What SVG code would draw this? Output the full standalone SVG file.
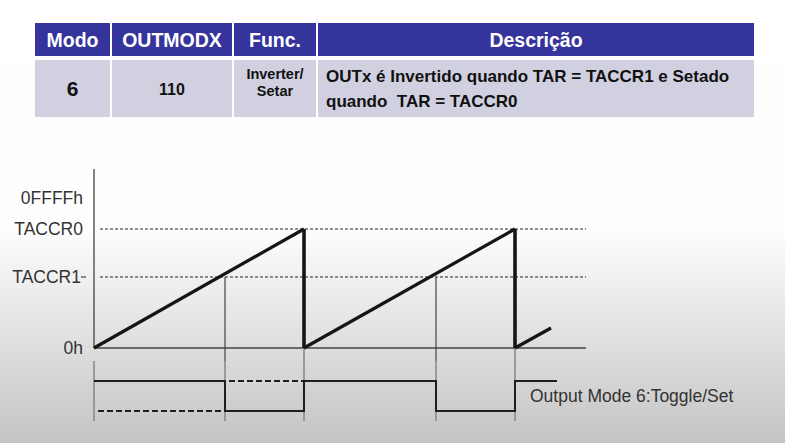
<svg xmlns="http://www.w3.org/2000/svg" width="785" height="443" viewBox="0 0 785 443">
<defs>
<linearGradient id="bg" x1="0" y1="0" x2="0" y2="443" gradientUnits="userSpaceOnUse">
<stop offset="0" stop-color="#ffffff"/>
<stop offset="0.52" stop-color="#fdfdfd"/>
<stop offset="1" stop-color="#c4c4c4"/>
</linearGradient>
<style>
.hdr{fill:#34349c}
.row{fill:#d0d0e0}
.ht{font-family:"Liberation Sans",Arial,sans-serif;font-weight:bold;fill:#ffffff;font-size:19.5px;text-anchor:middle}
.bt{font-family:"Liberation Sans",Arial,sans-serif;font-weight:bold;fill:#111111;text-anchor:middle}
.dt{font-family:"Liberation Sans",Arial,sans-serif;font-weight:bold;fill:#111111;font-size:17px;white-space:pre}
.lbl{font-family:"Liberation Sans",Arial,sans-serif;fill:#333333;font-size:17.5px}
.axis{stroke:#333333;stroke-width:1.2;fill:none}
.base{stroke:#6a6a6a;stroke-width:1.8;fill:none}
.dot{stroke:#222222;stroke-width:1;stroke-dasharray:3 2;fill:none}
.ramp{stroke:#151515;stroke-width:3.2;fill:none;stroke-linejoin:miter}
.drop{stroke:#151515;stroke-width:3.6;fill:none}
.thin{stroke:#444444;stroke-width:1.2;fill:none}
.tick{stroke:#8a8a8a;stroke-width:1.6;fill:none}
.wave{stroke:#1e1e1e;stroke-width:2;fill:none}
.dash{stroke:#1e1e1e;stroke-width:2;stroke-dasharray:6 3;fill:none}
</style>
</defs>
<rect x="0" y="0" width="785" height="443" fill="url(#bg)"/>

<g id="table">
<rect class="hdr" x="35" y="23" width="75" height="33"/>
<rect class="hdr" x="112" y="23" width="120" height="33"/>
<rect class="hdr" x="234" y="23" width="82" height="33"/>
<rect class="hdr" x="318" y="23" width="436" height="33"/>
<rect class="row" x="35" y="60" width="75" height="57"/>
<rect class="row" x="112" y="60" width="120" height="57"/>
<rect class="row" x="234" y="60" width="82" height="57"/>
<rect class="row" x="318" y="60" width="436" height="57"/>
<text class="ht" x="72.5" y="47">Modo</text>
<text class="ht" x="172" y="47">OUTMODX</text>
<text class="ht" x="275" y="47">Func.</text>
<text class="ht" x="536" y="47">Descrição</text>
<text class="bt" x="72.5" y="96" font-size="21px">6</text>
<text class="bt" x="172" y="95" font-size="16px">110</text>
<text class="bt" x="275" y="79" font-size="14.5px">Inverter/</text>
<text class="bt" x="275" y="96" font-size="14.5px">Setar</text>
<text class="dt" x="326" y="82">OUTx é Invertido quando TAR = TACCR1 e Setado</text>
<text class="dt" x="326" y="107">quando  TAR = TACCR0</text>
</g>

<g id="labels">
<text class="lbl" x="83" y="204" text-anchor="end">0FFFFh</text>
<text class="lbl" x="83" y="235" text-anchor="end">TACCR0</text>
<text class="lbl" x="81" y="283" text-anchor="end">TACCR1</text>
<text class="lbl" x="83" y="354" text-anchor="end">0h</text>
<text class="lbl" x="530" y="402">Output Mode 6:Toggle/Set</text>
</g>

<g id="connectors">
<line class="axis" x1="94" y1="169" x2="94" y2="348"/>
<line class="thin" x1="81" y1="277" x2="86" y2="277"/>
<line class="dot" x1="100" y1="229" x2="586" y2="229"/>
<line class="dot" x1="100" y1="277" x2="586" y2="277"/>
<line class="base" x1="94" y1="348" x2="586" y2="348"/>
<line class="thin" x1="225" y1="277" x2="225" y2="361"/>
<line class="thin" x1="436" y1="277" x2="436" y2="361"/>
<line class="tick" x1="94" y1="361" x2="94" y2="421"/>
<line class="tick" x1="225" y1="361" x2="225" y2="421"/>
<line class="tick" x1="304" y1="348" x2="304" y2="421"/>
<line class="tick" x1="436" y1="361" x2="436" y2="421"/>
<line class="tick" x1="515" y1="348" x2="515" y2="421"/>
<polyline class="ramp" points="94,348 304,229"/>
<line class="drop" x1="304" y1="229" x2="304" y2="348"/>
<polyline class="ramp" points="304,348 515,229"/>
<line class="drop" x1="515" y1="229" x2="515" y2="348"/>
<polyline class="ramp" points="515,348 551,328"/>
<polyline class="wave" points="94,381 225,381 225,411 304,411 304,381 436,381 436,411 515,411 515,381 557,381"/>
<line class="dash" x1="98" y1="411" x2="222" y2="411"/>
<line class="dash" x1="229" y1="381" x2="304" y2="381"/>
</g>
</svg>
